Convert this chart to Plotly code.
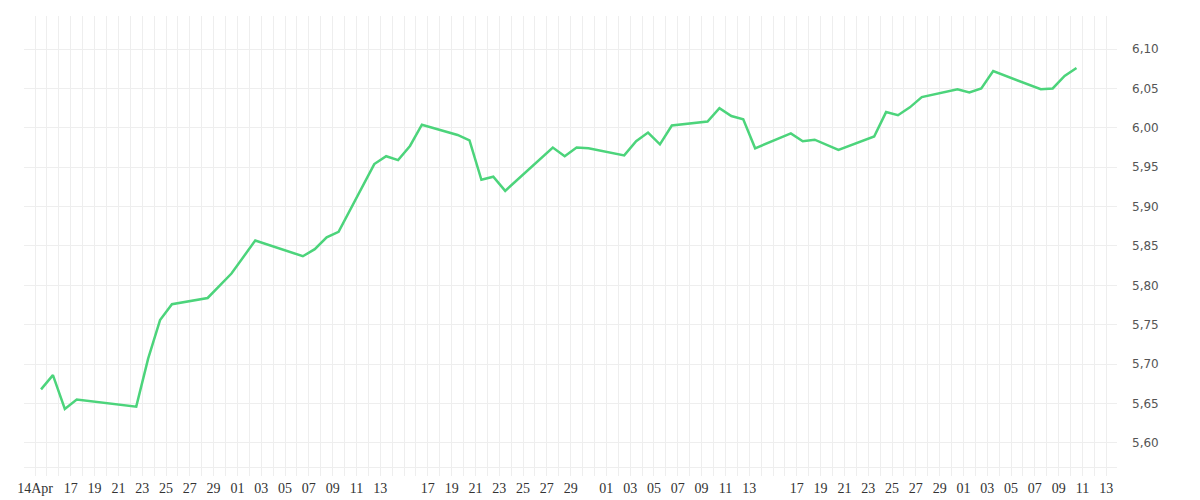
import plotly.graph_objects as go
import pandas as pd

# day offsets from 14 Apr, points sit at midday
day_offset = [0, 1, 2, 3, 8, 9, 10, 11, 14, 16, 18, 22, 23, 24, 25, 28, 29, 30, 31, 32,
              35, 36, 37, 38, 39, 43, 44, 45, 46, 49, 50, 51, 52, 53, 56, 57, 58, 59, 60,
              63, 64, 65, 67, 70, 71, 72, 73, 74, 77, 78, 79, 80, 84, 85, 86, 87]
rate = [5.668, 5.686, 5.643, 5.655, 5.646, 5.707, 5.756, 5.776, 5.784, 5.815, 5.857,
        5.837, 5.846, 5.861, 5.868, 5.954, 5.964, 5.959, 5.977, 6.004,
        5.991, 5.984, 5.934, 5.938, 5.920, 5.975, 5.964, 5.975, 5.974, 5.965, 5.983,
        5.994, 5.979, 6.003, 6.008, 6.025, 6.015, 6.011, 5.974,
        5.993, 5.983, 5.985, 5.972, 5.989, 6.020, 6.016, 6.026, 6.039, 6.049, 6.045,
        6.050, 6.072, 6.049, 6.050, 6.066, 6.076]

start = pd.Timestamp("2023-04-14 12:00")
dates = [start + pd.Timedelta(days=d) for d in day_offset]

tick_dates = pd.date_range("2023-04-14", "2023-07-13", freq="D")
tick_days = [tick_dates[0]] + [d for d in tick_dates[1:]
                               if d.day % 2 == 1 and d.day != 15 and d.day != 31]
tick_text = ["14Apr"] + [d.strftime("%d") for d in tick_days[1:]]

fig = go.Figure(go.Scatter(
    x=dates, y=rate, mode="lines",
    line=dict(color="#4cd47b", width=2.5),
    hoverinfo="x+y",
))

fig.update_layout(
    width=1200, height=500,
    margin=dict(l=16, r=91, t=8, b=41),
    plot_bgcolor="white", paper_bgcolor="white",
    showlegend=False,
    separators=",.",
)
fig.update_xaxes(
    type="date", automargin=False,
    range=["2023-04-13 01:40", "2023-07-13 21:40"],
    tickmode="array", tickvals=tick_days, ticktext=tick_text, tickangle=0,
    showgrid=True, gridcolor="#eeeeee", gridwidth=1,
    minor=dict(dtick=86400000, tick0="2023-04-14", showgrid=True, gridcolor="#eeeeee",
               ticks="outside", ticklen=8, tickcolor="#eeeeee"),
    ticks="outside", ticklen=8, tickcolor="#eeeeee",
    showline=True, linecolor="#eeeeee",
    tickfont=dict(family="Liberation Serif, serif", size=14, color="#333"),
    zeroline=False,
)
fig.update_yaxes(
    side="right", automargin=False,
    range=[5.5694, 6.142],
    dtick=0.05, tick0=5.6, tickformat=".2f",
    showgrid=True, gridcolor="#eeeeee",
    tickfont=dict(family="DejaVu Sans", size=12, color="#555"),
    ticks="", ticklabelstandoff=14,
    zeroline=False,
)

fig.write_html("out.html")
